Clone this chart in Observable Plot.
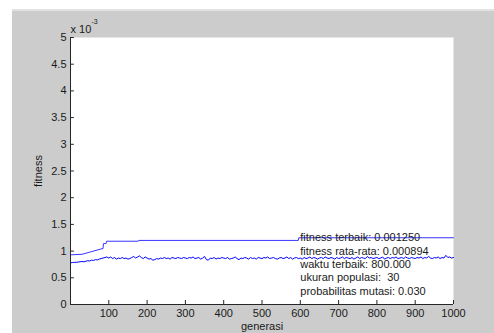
<!DOCTYPE html>
<html>
<head>
<meta charset="utf-8">
<script src="https://cdn.jsdelivr.net/npm/d3@7"></script>
<script src="https://cdn.jsdelivr.net/npm/@observablehq/plot@0.6"></script>
<style>
  html, body { margin: 0; padding: 0; background: #ffffff; }
  #wrap { position: relative; width: 494px; height: 333px; overflow: hidden; }
  #fig { position: absolute; left: 12px; top: 9px; right: 0; bottom: 0; background: #cccccc; border-top: 2px solid #e2e2e2; }
  #chart { position: absolute; left: 0; top: 0; }
  #chart svg { background: transparent; font-family: "Liberation Sans", Arial, sans-serif; }
</style>
</head>
<body>
<div id="wrap"><div id="fig"></div><div id="chart"></div></div>
<script>
// fitness values in units of 1e-3
const yTicks = [0, 0.5, 1, 1.5, 2, 2.5, 3, 3.5, 4, 4.5, 5];
const xTicks = [100, 200, 300, 400, 500, 600, 700, 800, 900, 1000];

// best fitness (step line)
const bestGen = [0, 30, 50, 85, 86, 93, 94, 177, 178, 595, 596, 1000];
const bestVal = [0.93, 0.94, 0.98, 1.05, 1.14, 1.14, 1.185, 1.185, 1.20, 1.20, 1.25, 1.25];

// average fitness, one sample every 5 generations
const avgStep = 5;
const avgVal = [
  0.78,0.785,0.79,0.79,0.795,0.80,0.805,0.80,0.81,0.82,0.815,0.83,0.825,0.84,0.835,0.85,0.86,0.87,0.88,0.89,
  0.87,0.89,0.86,0.88,0.85,0.87,0.86,0.88,0.86,0.87,0.85,0.86,0.88,0.90,0.87,0.89,0.91,0.88,0.86,0.89,
  0.87,0.85,0.86,0.83,0.84,0.86,0.85,0.87,0.86,0.88,0.86,0.87,0.85,0.88,0.87,0.86,0.88,0.87,0.86,0.88,
  0.87,0.86,0.88,0.87,0.89,0.86,0.87,0.88,0.85,0.87,0.90,0.84,0.83,0.87,0.86,0.88,0.85,0.87,0.86,0.88,
  0.87,0.86,0.88,0.85,0.86,0.87,0.89,0.86,0.84,0.87,0.86,0.88,0.87,0.85,0.88,0.86,0.87,0.85,0.88,0.87,
  0.86,0.88,0.87,0.89,0.86,0.87,0.88,0.86,0.85,0.87,0.88,0.86,0.87,0.89,0.86,0.88,0.85,0.87,0.88,0.86,
  0.87,0.85,0.88,0.86,0.87,0.89,0.86,0.88,0.87,0.85,0.87,0.88,0.86,0.89,0.87,0.86,0.88,0.87,0.85,0.88,
  0.86,0.87,0.89,0.86,0.88,0.87,0.86,0.88,0.85,0.87,0.89,0.86,0.88,0.87,0.86,0.90,0.87,0.88,0.86,0.87,
  0.88,0.86,0.87,0.89,0.85,0.87,0.88,0.86,0.88,0.87,0.89,0.86,0.87,0.88,0.86,0.89,0.87,0.86,0.88,0.87,
  0.86,0.88,0.87,0.89,0.86,0.88,0.87,0.90,0.87,0.86,0.88,0.87,0.89,0.86,0.88,0.87,0.92,0.88,0.89,0.87,
  0.88
];

// annotation texts
const noteLines = [
  "fitness terbaik: 0.001250",
  "fitness rata-rata: 0.000894",
  "waktu terbaik: 800.000",
  "ukuran populasi:  30",
  "probabilitas mutasi: 0.030"
];
const noteY = [1.25, 1.0, 0.75, 0.5, 0.25];
const noteX = 600;

const best = bestGen.map((g, i) => ({g, v: bestVal[i]}));
const avg = avgVal.map((v, i) => ({g: i * avgStep, v}));
const notes = noteLines.map((t, i) => ({t, y: noteY[i]}));

const axisColor = "#262626";
const font = "\"Liberation Sans\", Arial, sans-serif";

const plot = Plot.plot({
  width: 494,
  height: 333,
  marginLeft: 70,
  marginRight: 41,
  marginTop: 37,
  marginBottom: 29,
  style: {background: "transparent", fontFamily: font, fontSize: "11px", color: "#1a1a1a"},
  x: {domain: [0, 1000]},
  y: {domain: [0, 5]},
  marks: [
    Plot.frame({fill: "white", stroke: "none"}),
    Plot.ruleY(yTicks, {x1: 0, x2: 10, stroke: axisColor}),
    Plot.ruleX(xTicks, {y1: 0, y2: 0.075, stroke: axisColor}),
    Plot.line(best, {x: "g", y: "v", stroke: "#3535ff", strokeWidth: 1}),
    Plot.line(avg, {x: "g", y: "v", stroke: "#0000ff", strokeWidth: 1}),
    Plot.text(notes, {x: noteX, y: "y", text: "t", textAnchor: "start", fontSize: 11, fill: "#1a1a1a"}),
    Plot.ruleX([0], {stroke: axisColor}),
    Plot.ruleY([0], {stroke: axisColor}),
    Plot.text(["x 10"], {frameAnchor: "top-left", lineAnchor: "middle", dx: 0, dy: -8, textAnchor: "start", fontSize: 11, fill: "#1a1a1a"}),
    Plot.text(["-3"], {frameAnchor: "top-left", lineAnchor: "middle", dx: 21, dy: -16, textAnchor: "start", fontSize: 7, fill: "#1a1a1a"}),
    Plot.axisX({ticks: xTicks, tickSize: 0, tickPadding: 5, tickFormat: d => String(d), label: "generasi", labelAnchor: "center", labelOffset: 25, labelArrow: "none", fontSize: 11}),
    Plot.axisY({ticks: yTicks, tickSize: 0, tickPadding: 4, tickFormat: d => String(d), label: "fitness", labelAnchor: "center", labelOffset: 36, labelArrow: "none", fontSize: 11})
  ]
});
document.getElementById("chart").appendChild(plot);
</script>
</body>
</html>
